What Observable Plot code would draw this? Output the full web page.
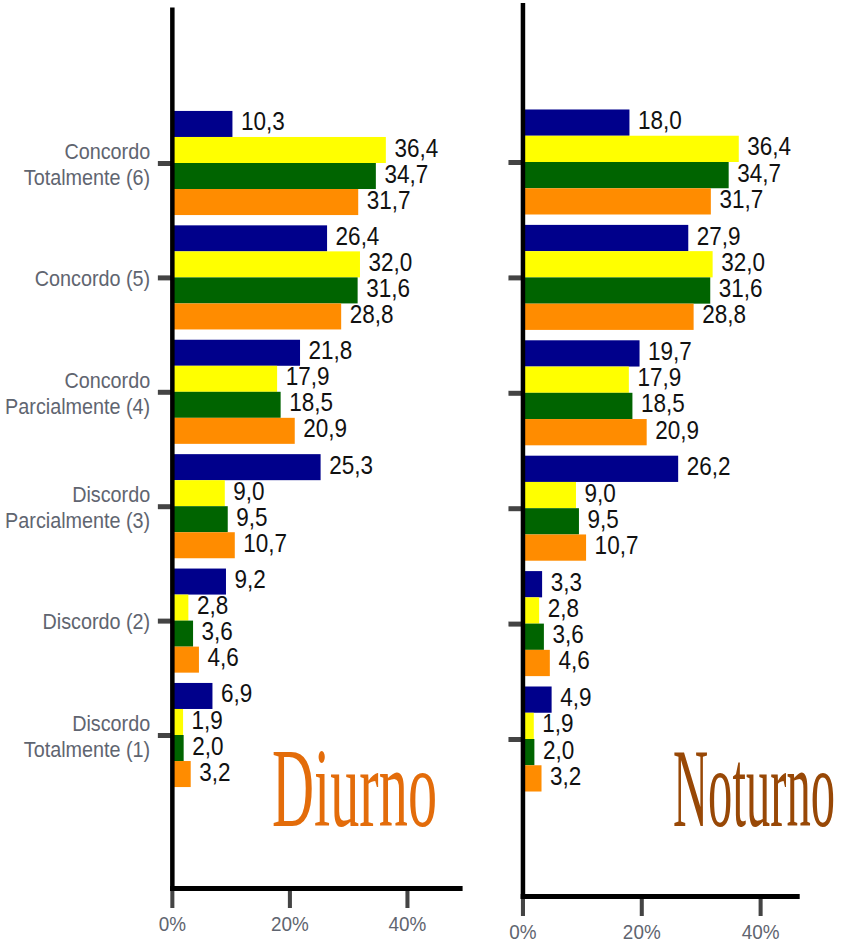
<!DOCTYPE html>
<html>
<head>
<meta charset="utf-8">
<script src="https://cdn.jsdelivr.net/npm/d3@7"></script>
<script src="https://cdn.jsdelivr.net/npm/@observablehq/plot@0.6"></script>
<style>
  html, body { margin: 0; padding: 0; background: #fff; overflow: hidden; }
  #chart { position: relative; width: 845px; height: 945px; }
  .panel { position: absolute; top: 0; height: 945px; overflow: hidden; }
  .panel svg { display: block; max-width: none !important; height: 945px !important; transform: scaleX(0.9); transform-origin: 0 0; }
  #overlay { position: absolute; left: 0; top: 0; pointer-events: none; }
</style>
</head>
<body>
<div id="chart">
  <div id="left" class="panel" style="left:0;width:470px"></div>
  <div id="right" class="panel" style="left:500px;width:345px"></div>
  <svg id="overlay" width="845" height="945">
    <text x="272" y="826" textLength="165" lengthAdjust="spacingAndGlyphs"
          font-family="'Liberation Serif', 'DejaVu Serif', serif" font-size="112" fill="#E36C0A">Diurno</text>
    <text x="673" y="826" textLength="162" lengthAdjust="spacingAndGlyphs"
          font-family="'Liberation Serif', 'DejaVu Serif', serif" font-size="112" fill="#984806">Noturno</text>
  </svg>
</div>
<script>
// ---- data ----
const categories = [
  "Concordo\nTotalmente (6)",
  "Concordo (5)",
  "Concordo\nParcialmente (4)",
  "Discordo\nParcialmente (3)",
  "Discordo (2)",
  "Discordo\nTotalmente (1)"
];
const seriesNames = ["Série 1", "Série 2", "Série 3", "Série 4"];
const xTicks = [0, 20, 40];

const diurnoSerie1 = [10.3, 26.4, 21.8, 25.3, 9.2, 6.9];
const diurnoSerie2 = [36.4, 32.0, 17.9, 9.0, 2.8, 1.9];
const diurnoSerie3 = [34.7, 31.6, 18.5, 9.5, 3.6, 2.0];
const diurnoSerie4 = [31.7, 28.8, 20.9, 10.7, 4.6, 3.2];

const noturnoSerie1 = [18.0, 27.9, 19.7, 26.2, 3.3, 4.9];
const noturnoSerie2 = [36.4, 32.0, 17.9, 9.0, 2.8, 1.9];
const noturnoSerie3 = [34.7, 31.6, 18.5, 9.5, 3.6, 2.0];
const noturnoSerie4 = [31.7, 28.8, 20.9, 10.7, 4.6, 3.2];

// ---- styles ----
const seriesColors = ["#00008B", "#FFFF00", "#006400", "#FF8C00"];
const fmt = v => v.toFixed(1).replace(".", ",");

function toRows(seriesArrays) {
  const rows = [];
  seriesArrays.forEach((arr, k) => {
    arr.forEach((v, i) => rows.push({category: categories[i], series: seriesNames[k], value: v}));
  });
  return rows;
}

function panel({rows, xMax, width, marginLeft, marginRight, marginTop, marginBottom, yRange, showLabels}) {
  const pad = 0.09;
  const n = categories.length;
  const step = (yRange[1] - yRange[0]) / (n - pad + 2 * pad);
  const bw = step * (1 - pad);
  const q = bw / 4;
  const marks = [];
  seriesNames.forEach((s, k) => {
    const data = rows.filter(r => r.series === s);
    marks.push(Plot.barX(data, {
      x: "value", y: "category", fill: seriesColors[k],
      insetTop: k * q, insetBottom: (3 - k) * q
    }));
  });
  seriesNames.forEach((s, k) => {
    const data = rows.filter(r => r.series === s);
    marks.push(Plot.text(data, {
      x: "value", y: "category", text: d => fmt(d.value),
      dx: 9, dy: (-1.5 + k) * q - 2, textAnchor: "start",
      fontSize: 25, fill: "#111"
    }));
  });
  marks.push(Plot.axisX({
    ticks: xTicks, tickFormat: d => d + "%", tickSize: 20, tickPadding: 8,
    stroke: "#444", strokeWidth: 4.5, color: "#5f6570", fontSize: 21, label: null
  }));
  marks.push(Plot.axisY({
    tickSize: 15.6, tickPadding: 9, stroke: "#444", strokeWidth: 5,
    color: "#5f6570", fontSize: 22, lineHeight: 1.18, label: null,
    tickFormat: showLabels ? (d => d) : (() => "")
  }));
  marks.push(Plot.frame({anchor: "left", stroke: "#000", strokeWidth: 5}));
  marks.push(Plot.frame({anchor: "bottom", stroke: "#000", strokeWidth: 5}));
  return Plot.plot({
    width, height: 945, marginLeft, marginRight, marginTop, marginBottom,
    style: {fontFamily: "'Liberation Sans', Arial, sans-serif", background: "transparent", overflow: "visible", maxWidth: "none"},
    x: {domain: [0, xMax], label: null},
    y: {type: "band", domain: categories, range: yRange, paddingInner: pad, paddingOuter: pad, round: false, label: null},
    marks
  });
}

document.getElementById("left").appendChild(panel({
  rows: toRows([diurnoSerie1, diurnoSerie2, diurnoSerie3, diurnoSerie4]),
  xMax: 49, width: 522, marginLeft: 191, marginRight: 11,
  marginTop: 9.5, marginBottom: 57, yRange: [100.65, 797.35], showLabels: true
}));
document.getElementById("right").appendChild(panel({
  rows: toRows([noturnoSerie1, noturnoSerie2, noturnoSerie3, noturnoSerie4]),
  xMax: 46.2, width: 383, marginLeft: 25, marginRight: 53,
  marginTop: 5, marginBottom: 49, yRange: [99.1, 801.9], showLabels: false
}));
</script>
</body>
</html>
